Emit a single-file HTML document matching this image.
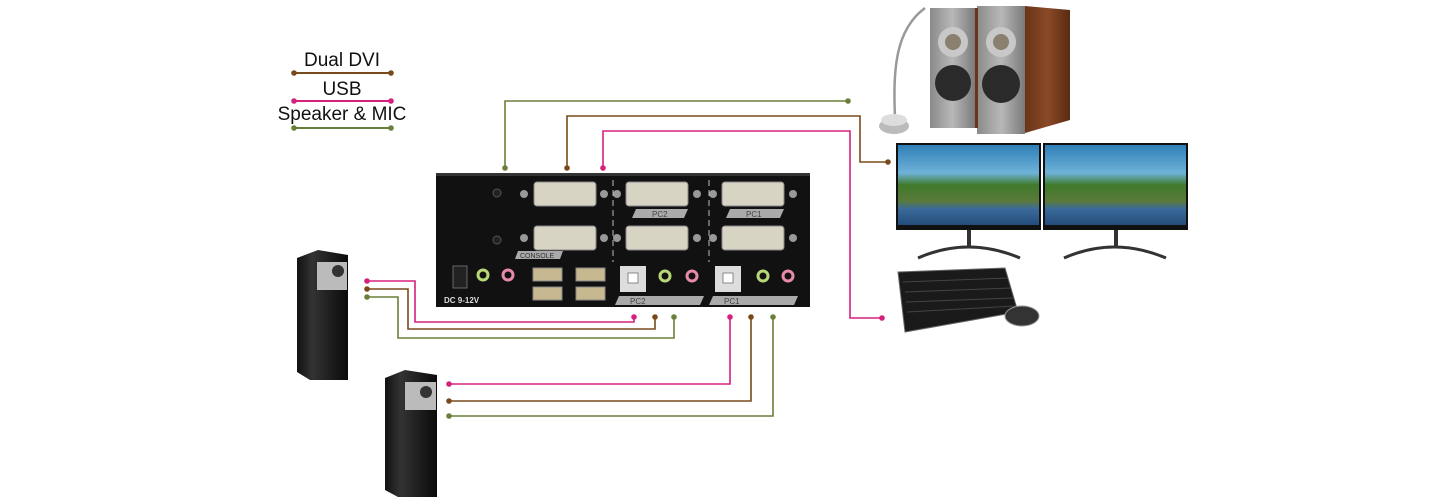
<!DOCTYPE html>
<html><head><meta charset="utf-8"><style>
html,body{margin:0;padding:0;background:#fff}
svg{display:block}
text{font-family:"Liberation Sans",sans-serif}
</style></head><body>
<svg width="1450" height="500" viewBox="0 0 1450 500" xmlns="http://www.w3.org/2000/svg">
<defs>
<linearGradient id="sky" x1="0" y1="0" x2="0" y2="1"><stop offset="0" stop-color="#2f7fb8"/><stop offset="0.35" stop-color="#6fb2d8"/><stop offset="0.5" stop-color="#3f7a2a"/><stop offset="0.7" stop-color="#5a7a3a"/><stop offset="0.8" stop-color="#3a6a9a"/><stop offset="1" stop-color="#244c7a"/></linearGradient>
<linearGradient id="wood" x1="0" y1="0" x2="1" y2="0"><stop offset="0" stop-color="#6a3418"/><stop offset="0.5" stop-color="#8a4a28"/><stop offset="1" stop-color="#5a2a12"/></linearGradient>
<linearGradient id="front" x1="0" y1="0" x2="1" y2="0"><stop offset="0" stop-color="#8a8a8a"/><stop offset="0.5" stop-color="#b8b8b8"/><stop offset="1" stop-color="#7a7a7a"/></linearGradient>
<linearGradient id="tower" x1="0" y1="0" x2="1" y2="0"><stop offset="0" stop-color="#111"/><stop offset="0.3" stop-color="#333"/><stop offset="1" stop-color="#0a0a0a"/></linearGradient>
</defs>

<!-- legend -->
<text x="342" y="66" font-size="19" text-anchor="middle" fill="#111">Dual DVI</text>
<line x1="294" y1="73" x2="391" y2="73" stroke="#7a4a1c" stroke-width="2"/>
<circle cx="294" cy="73" r="2.8" fill="#7a4a1c"/><circle cx="391" cy="73" r="2.8" fill="#7a4a1c"/>
<text x="342" y="95" font-size="19" text-anchor="middle" fill="#111">USB</text>
<line x1="294" y1="101" x2="391" y2="101" stroke="#d6207e" stroke-width="2"/>
<circle cx="294" cy="101" r="2.8" fill="#d6207e"/><circle cx="391" cy="101" r="2.8" fill="#d6207e"/>
<text x="342" y="120" font-size="19" text-anchor="middle" fill="#111">Speaker &amp; MIC</text>
<line x1="294" y1="128" x2="391" y2="128" stroke="#6a7f3a" stroke-width="2"/>
<circle cx="294" cy="128" r="2.8" fill="#6a7f3a"/><circle cx="391" cy="128" r="2.8" fill="#6a7f3a"/>

<!-- connectors -->
<g fill="none" stroke-width="1.6">
<polyline points="505,168 505,101 848,101" stroke="#6a7f3a"/>
<polyline points="567,168 567,116 860,116 860,162 888,162" stroke="#7a4a1c"/>
<polyline points="603,168 603,131 850,131 850,318 882,318" stroke="#d6207e"/>
<polyline points="367,281 415,281 415,322 634,322 634,317" stroke="#d6207e"/>
<polyline points="367,289 408,289 408,329 655,329 655,317" stroke="#7a4a1c"/>
<polyline points="367,297 398,297 398,338 674,338 674,317" stroke="#6a7f3a"/>
<polyline points="730,317 730,384 449,384" stroke="#d6207e"/>
<polyline points="751,317 751,401 449,401" stroke="#7a4a1c"/>
<polyline points="773,317 773,416 449,416" stroke="#6a7f3a"/>
</g>
<g>
<circle cx="505" cy="168" r="2.8" fill="#6a7f3a"/><circle cx="848" cy="101" r="2.8" fill="#6a7f3a"/>
<circle cx="567" cy="168" r="2.8" fill="#7a4a1c"/><circle cx="888" cy="162" r="2.8" fill="#7a4a1c"/>
<circle cx="603" cy="168" r="2.8" fill="#d6207e"/><circle cx="882" cy="318" r="2.8" fill="#d6207e"/>
<circle cx="367" cy="281" r="2.8" fill="#d6207e"/><circle cx="367" cy="289" r="2.8" fill="#7a4a1c"/><circle cx="367" cy="297" r="2.8" fill="#6a7f3a"/>
<circle cx="634" cy="317" r="2.8" fill="#d6207e"/><circle cx="655" cy="317" r="2.8" fill="#7a4a1c"/><circle cx="674" cy="317" r="2.8" fill="#6a7f3a"/>
<circle cx="730" cy="317" r="2.8" fill="#d6207e"/><circle cx="751" cy="317" r="2.8" fill="#7a4a1c"/><circle cx="773" cy="317" r="2.8" fill="#6a7f3a"/>
<circle cx="449" cy="384" r="2.8" fill="#d6207e"/><circle cx="449" cy="401" r="2.8" fill="#7a4a1c"/><circle cx="449" cy="416" r="2.8" fill="#6a7f3a"/>
</g>

<!-- KVM -->
<rect x="436" y="173" width="374" height="134" fill="#111"/>
<rect x="436" y="173" width="374" height="3" fill="#333"/>
<g fill="#d8d4c4" stroke="#888" stroke-width="1">
<rect x="534" y="182" width="62" height="24" rx="3"/><rect x="534" y="226" width="62" height="24" rx="3"/>
<rect x="626" y="182" width="62" height="24" rx="3"/><rect x="626" y="226" width="62" height="24" rx="3"/>
<rect x="722" y="182" width="62" height="24" rx="3"/><rect x="722" y="226" width="62" height="24" rx="3"/>
</g>
<g fill="#999"><circle cx="524" cy="194" r="4"/><circle cx="604" cy="194" r="4"/><circle cx="524" cy="238" r="4"/><circle cx="604" cy="238" r="4"/>
<circle cx="617" cy="194" r="4"/><circle cx="697" cy="194" r="4"/><circle cx="617" cy="238" r="4"/><circle cx="697" cy="238" r="4"/>
<circle cx="713" cy="194" r="4"/><circle cx="793" cy="194" r="4"/><circle cx="713" cy="238" r="4"/><circle cx="793" cy="238" r="4"/></g>
<g stroke="#bbb" stroke-dasharray="6,4"><line x1="613" y1="180" x2="613" y2="262"/><line x1="709" y1="180" x2="709" y2="262"/></g>
<polygon points="636,209 688,209 684,218 632,218" fill="#aaa"/><text x="652" y="217" font-size="8" fill="#444">PC2</text>
<polygon points="730,209 784,209 780,218 726,218" fill="#aaa"/><text x="746" y="217" font-size="8" fill="#444">PC1</text>
<polygon points="518,251 563,251 560,259 515,259" fill="#aaa"/><text x="520" y="258" font-size="7" fill="#333">CONSOLE</text>
<rect x="453" y="266" width="14" height="22" fill="#222" stroke="#666"/>
<text x="444" y="303" font-size="8" fill="#ddd" font-weight="bold">DC 9-12V</text>
<g fill="none" stroke-width="3"><circle cx="483" cy="275" r="5" stroke="#b8d878"/><circle cx="508" cy="275" r="5" stroke="#e88aa8"/>
<circle cx="665" cy="276" r="5" stroke="#b8d878"/><circle cx="692" cy="276" r="5" stroke="#e88aa8"/>
<circle cx="763" cy="276" r="5" stroke="#b8d878"/><circle cx="788" cy="276" r="5" stroke="#e88aa8"/></g>
<g fill="#c8b890" stroke="#888"><rect x="533" y="268" width="29" height="13"/><rect x="533" y="287" width="29" height="13"/><rect x="576" y="268" width="29" height="13"/><rect x="576" y="287" width="29" height="13"/></g>
<rect x="620" y="266" width="26" height="26" fill="#ddd"/><rect x="628" y="273" width="10" height="10" fill="#fff" stroke="#888"/>
<rect x="715" y="266" width="26" height="26" fill="#ddd"/><rect x="723" y="273" width="10" height="10" fill="#fff" stroke="#888"/>
<polygon points="619,296 704,296 700,305 615,305" fill="#aaa"/><text x="630" y="304" font-size="8" fill="#444">PC2</text>
<polygon points="713,296 798,296 794,305 709,305" fill="#aaa"/><text x="724" y="304" font-size="8" fill="#444">PC1</text>
<circle cx="497" cy="193" r="4" fill="#222" stroke="#555"/><circle cx="497" cy="240" r="4" fill="#222" stroke="#555"/>

<!-- mic -->
<path d="M895,118 C893,70 895,30 925,8" fill="none" stroke="#999" stroke-width="2.5"/>
<ellipse cx="894" cy="126" rx="15" ry="8" fill="#bbb"/><ellipse cx="894" cy="120" rx="13" ry="6" fill="#ddd"/>
<!-- speakers -->
<polygon points="1025,6 1070,10 1070,120 1025,133" fill="url(#wood)"/>
<rect x="930" y="8" width="45" height="120" fill="url(#front)"/>
<rect x="977" y="6" width="48" height="128" fill="url(#front)"/>
<rect x="975" y="8" width="3" height="120" fill="#6a3418"/>
<circle cx="953" cy="42" r="15" fill="#c8c8c8"/><circle cx="953" cy="42" r="8" fill="#8a8070"/>
<circle cx="953" cy="83" r="18" fill="#2a2a2a"/>
<circle cx="1001" cy="42" r="15" fill="#c8c8c8"/><circle cx="1001" cy="42" r="8" fill="#8a8070"/>
<circle cx="1001" cy="84" r="19" fill="#2a2a2a"/>

<!-- monitors -->
<rect x="896" y="143" width="145" height="87" fill="#111"/><rect x="898" y="145" width="141" height="80" fill="url(#sky)"/>
<rect x="1043" y="143" width="145" height="87" fill="#111"/><rect x="1045" y="145" width="141" height="80" fill="url(#sky)"/>
<rect x="967" y="230" width="4" height="16" fill="#333"/><rect x="1114" y="230" width="4" height="16" fill="#333"/>
<path d="M918,258 Q968,236 1020,258" fill="none" stroke="#333" stroke-width="3"/>
<path d="M1064,258 Q1114,236 1166,258" fill="none" stroke="#333" stroke-width="3"/>

<!-- keyboard -->
<polygon points="898,272 1005,268 1018,312 905,332" fill="#1a1a1a" stroke="#666"/>
<g stroke="#444" stroke-width="1"><line x1="903" y1="282" x2="1008" y2="278"/><line x1="905" y1="292" x2="1011" y2="288"/><line x1="906" y1="302" x2="1013" y2="298"/><line x1="907" y1="312" x2="1015" y2="306"/></g>
<ellipse cx="1022" cy="316" rx="17" ry="10" fill="#333" stroke="#999"/>

<!-- PC towers -->
<polygon points="297,258 318,250 348,255 348,380 310,380 297,372" fill="url(#tower)"/>
<rect x="317" y="262" width="30" height="28" fill="#bbb"/><circle cx="338" cy="271" r="6" fill="#333"/>
<polygon points="385,378 405,370 437,375 437,497 398,497 385,490" fill="url(#tower)"/>
<rect x="405" y="382" width="31" height="28" fill="#bbb"/><circle cx="426" cy="392" r="6" fill="#333"/>
</svg>
</body></html>
